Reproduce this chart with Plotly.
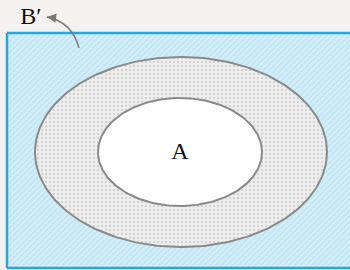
import numpy as np
import plotly.graph_objects as go

# Universe rectangle (B' region) bounds: x0, x1, y0, y1
universe_box = [7, 362, 33, 268]
# Ellipses: centre x, centre y, radius x, radius y
outer_ellipse = [181, 152, 146, 95]
inner_ellipse = [180, 152, 82, 54]
# Labels
label_texts = ["A", "B\u2032"]
label_x = [180, 31]
label_y = [153, 18]
# Curved arrow (quadratic): start, control, end
arrow_x = [79, 72, 47]
arrow_y = [48, 22, 17]

def ellipse(cx, cy, rx, ry, n=240):
    t = np.linspace(0, 2 * np.pi, n)
    return cx + rx * np.cos(t), cy + ry * np.sin(t)

fig = go.Figure()

x0, x1, y0, y1 = universe_box
# hatched fill of the universe (no outline)
fig.add_trace(go.Scatter(
    x=[x0, x1, x1, x0, x0], y=[y0, y0, y1, y1, y0],
    mode="none", fill="toself",
    fillcolor="#cbe9f6",
    fillpattern=dict(shape="/", fgcolor="#a6dcf2", bgcolor="#d6eef8", size=4, solidity=0.45),
    hoverinfo="skip", showlegend=False))
# border: top, left, bottom (right side runs off the picture)
border = dict(color="#27a7e0", width=2.5)
for (xa, ya, xb, yb) in [(x0, y0, x1, y0), (x0, y0, x0, y1), (x0, y1, x1, y1)]:
    fig.add_shape(type="line", x0=xa, y0=ya, x1=xb, y1=yb, xref="x", yref="y",
                  line=border, layer="above")

ox, oy = ellipse(*outer_ellipse)
fig.add_trace(go.Scatter(
    x=ox, y=oy, mode="lines", fill="toself",
    line=dict(color="#8a8a8a", width=2),
    fillcolor="#eeeeee",
    fillpattern=dict(shape=".", fgcolor="#b8b8b8", bgcolor="#eeeeee", size=4, solidity=0.28),
    hoverinfo="skip", showlegend=False))

ix, iy = ellipse(*inner_ellipse)
fig.add_trace(go.Scatter(
    x=ix, y=iy, mode="lines", fill="toself",
    line=dict(color="#8a8a8a", width=2),
    fillcolor="#ffffff",
    hoverinfo="skip", showlegend=False))

fig.add_trace(go.Scatter(
    x=label_x, y=label_y, mode="text", text=label_texts,
    textfont=dict(family="Liberation Serif, DejaVu Serif, serif", size=24, color="#111111"),
    hoverinfo="skip", showlegend=False))

# curved arrow body
path = "M %g %g Q %g %g %g %g" % (arrow_x[0], arrow_y[0], arrow_x[1], arrow_y[1], arrow_x[2], arrow_y[2])
fig.add_shape(type="path", path=path, xref="x", yref="y",
              line=dict(color="#777777", width=1.4))
fig.add_annotation(x=arrow_x[2], y=arrow_y[2], ax=arrow_x[2] + 8, ay=arrow_y[2] + 1,
                   axref="x", ayref="y", xref="x", yref="y", text="",
                   showarrow=True, arrowhead=2, arrowsize=1.3, arrowwidth=1.4,
                   arrowcolor="#777777")

fig.update_xaxes(range=[0, 350], visible=False, fixedrange=True)
fig.update_yaxes(range=[270, 0], visible=False, fixedrange=True)
fig.update_layout(width=350, height=270, margin=dict(l=0, r=0, t=0, b=0),
                  paper_bgcolor="#f3f2f1", plot_bgcolor="#f3f2f1")

fig.write_html("out.html", config={"displayModeBar": False},
               post_script="document.body.style.margin='0';document.body.style.background='#f3f2f1';document.body.style.overflow='hidden';")
